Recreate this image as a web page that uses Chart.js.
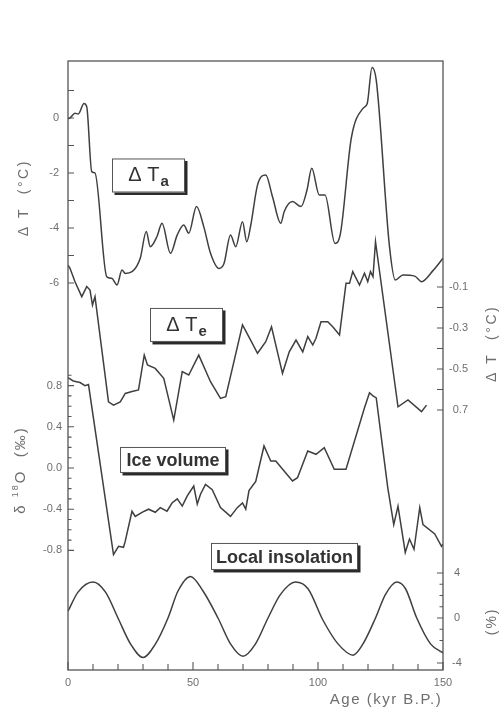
<!DOCTYPE html>
<html>
<head>
<meta charset="utf-8">
<script src="https://cdn.jsdelivr.net/npm/chart.js@4.4.1/dist/chart.umd.min.js"></script>
<style>
  html, body { margin: 0; padding: 0; background: #fff; }
  canvas { display: block; }
</style>
</head>
<body>
<canvas id="paleo" width="503" height="707"></canvas>
<script>
// Atmospheric temperature anomaly (top curve)
const taAge = [0, 0.8, 2.8, 4.1, 6.4, 7.5, 9.5, 10.8, 15.5, 17.5, 19.6, 21.6, 22.9, 25.6, 28.9, 31.3, 32.9, 35.6, 37.6, 41,
  43.7, 46.3, 48.3, 51.4, 54.3, 57, 60.4, 62.4, 65, 67.1, 69.8, 71.5, 73.1, 75.8, 79.1, 81.8, 85.1, 86.5, 89.8, 93.2,
  95.6, 97.5, 100.5, 102.8, 106.8, 109, 113.3, 118, 119.7, 121.6, 123.3, 128.6, 130.9, 134, 138.7, 141.4, 146, 150];
const taVal = [-0.02, 0.0, 0.17, 0.15, 0.53, 0.41, -1.95, -2.0, -5.77, -5.83, -6.07, -5.53, -5.65, -5.59, -5.1, -4.13, -4.68, -4.31, -3.83, -4.92,
  -4.25, -3.89, -4.19, -3.22, -3.95, -4.92, -5.47, -5.29, -4.25, -4.68, -3.77, -4.5, -3.9, -2.44, -2.07, -2.86, -3.83, -3.4, -3.04, -3.22,
  -2.62, -1.83, -2.8, -2.8, -4.56, -4.19, -0.74, 0.35, 0.53, 1.84, 1.38, -4.68, -5.89, -5.71, -5.75, -5.95, -5.55, -5.1];

// Equatorial temperature anomaly (second curve, right axis)
const teAge = [0, 0.8, 2.8, 5.5, 7.5, 8.8, 9.8, 10.8, 16.2, 18.2, 20.9, 22.9, 25.6, 28.2, 30.5, 31.8, 34.9, 38.3, 42.3,
  45.7, 48.3, 52.3, 57, 61, 63.1, 69.8, 73.1, 75.8, 79.1, 81.4, 85.8, 88.5, 91.2, 93.9, 95.9, 97.9, 99.2, 101.2, 103.9,
  105.9, 108.6, 111.2, 112.6, 113.9, 116.6, 118.6, 119.9, 121, 122, 123, 132, 136, 141.4, 143.4];
const teVal = [0.007, -0.009, -0.074, -0.147, -0.098, -0.115, -0.188, -0.147, -0.66, -0.676, -0.66, -0.619, -0.61, -0.602, -0.432, -0.48, -0.497, -0.545, -0.749,
  -0.513, -0.529, -0.432, -0.562, -0.643, -0.635, -0.285, -0.36, -0.423, -0.367, -0.294, -0.521, -0.416, -0.359, -0.416, -0.342, -0.383, -0.35, -0.269, -0.269,
  -0.294, -0.334, -0.082, -0.082, -0.025, -0.09, -0.033, -0.074, -0.025, -0.05, 0.121, -0.684, -0.651, -0.708, -0.676];

// Ice volume, delta 18O (third curve, left axis)
const iceAge = [0, 2.1, 4.8, 6.8, 8.2, 18.2, 20.2, 22.2, 22.9, 25.6, 26.9, 29.6, 32.2, 34.9, 36.9, 39.6, 41.6, 43.7, 45.7, 47.7,
  50.3, 51.7, 53, 55, 57.7, 61, 65, 67.7, 69.8, 71.1, 72.4, 75.1, 78.4, 81.1, 83.1, 89.8, 91.8, 95.9, 99.2, 102.5,
  106.5, 111.2, 118.6, 120.6, 122, 123.3, 127.9, 130.3, 132, 134.9, 136.6, 138.4, 140.7, 142, 146.7, 149.4, 150];
const iceVal = [0.877, 0.845, 0.83, 0.80, 0.81, -0.84, -0.76, -0.77, -0.71, -0.42, -0.47, -0.43, -0.40, -0.43, -0.385, -0.42, -0.34, -0.30, -0.37, -0.27,
  -0.175, -0.35, -0.255, -0.16, -0.21, -0.385, -0.47, -0.385, -0.34, -0.40, -0.22, -0.13, 0.214, 0.068, 0.068, -0.126, -0.094, 0.165, 0.133, 0.197,
  -0.013, -0.013, 0.585, 0.73, 0.70, 0.68, -0.19, -0.55, -0.37, -0.82, -0.69, -0.79, -0.385, -0.55, -0.64, -0.76, -0.74];

// Local insolation anomaly (bottom curve, %)
const insAge = [0, 4, 10, 15, 20, 25, 30, 35, 40, 44, 49, 54, 60, 65, 70, 75, 80, 85, 91, 96, 102, 108, 114, 118, 123, 127, 131.5, 135, 139.5, 145, 150];
const insVal = [0.6, 2.3, 3.2, 2.3, 0, -2.3, -3.5, -2.3, 0, 2.4, 3.7, 2.4, 0, -2.3, -3.4, -2.3, 0, 2.1, 3.2, 2.6, -0.2, -2.3, -3.3, -2.3, 0, 2.1, 3.2, 2.6, 0, -2.3, -3.1];

// Tick values and labels
const ageTicks = [0, 10, 20, 30, 40, 50, 60, 70, 80, 90, 100, 110, 120, 130, 140, 150];
const ageLabels = [0, 50, 100, 150];
const taTicks = [1, 0, -1, -2, -3, -4, -5, -6];
const taLabels = ['0', '-2', '-4', '-6'];
const taLabelVals = [0, -2, -4, -6];
const teTicks = [-0.1, -0.2, -0.3, -0.4, -0.5, -0.6, -0.7];
const teLabels = ['-0.1', '-0.3', '-0.5', '0.7'];
const teLabelVals = [-0.1, -0.3, -0.5, -0.7];
const iceMajor = [0.8, 0.4, 0.0, -0.4, -0.8];
const iceMinor = [0.9, 0.7, 0.6, 0.5, 0.3, 0.2, 0.1, -0.1, -0.2, -0.3, -0.5, -0.6, -0.7];
const iceLabels = ['0.8', '0.4', '0.0', '-0.4', '-0.8'];
const insMajor = [4, 0, -4];
const insMinor = [3, 2, 1, -1, -2, -3];
const insLabels = ['4', '0', '-4'];

const FONT = '"Liberation Sans", Arial, Helvetica, sans-serif';
const INK = '#3f3f3f';
const FRAME = '#555';
const GREY = '#6e6e6e';

function pairs(xs, ys) {
  return xs.map((x, i) => ({ x: x, y: ys[i] }));
}

function curve(label, xs, ys, axis, smooth) {
  return {
    label: label,
    data: pairs(xs, ys),
    yAxisID: axis,
    borderColor: INK,
    borderWidth: 1.5,
    pointRadius: 0,
    fill: false,
    tension: smooth ? 0.4 : 0,
    cubicInterpolationMode: smooth ? 'monotone' : 'default'
  };
}

// Draw text with optional letter spacing
function spacedText(ctx, text, x, y, spacing) {
  if ('letterSpacing' in ctx) {
    ctx.letterSpacing = spacing + 'px';
    ctx.fillText(text, x, y);
    ctx.letterSpacing = '0px';
  } else {
    ctx.fillText(text, x, y);
  }
}

function vTitle(ctx, text, cx, cy, size, spacing) {
  ctx.save();
  ctx.translate(cx, cy);
  ctx.rotate(-Math.PI / 2);
  ctx.font = size + 'px ' + FONT;
  ctx.fillStyle = GREY;
  ctx.textAlign = 'center';
  ctx.textBaseline = 'middle';
  spacedText(ctx, text, 0, 0, spacing);
  ctx.restore();
}

// Boxed caption with drop shadow, placed in data coordinates
function captionBox(ctx, chart, spec) {
  const x0 = chart.scales.x.getPixelForValue(spec.from);
  const x1 = chart.scales.x.getPixelForValue(spec.to);
  const yc = chart.scales[spec.axis].getPixelForValue(spec.at);
  const y0 = yc - spec.h / 2;
  ctx.save();
  ctx.fillStyle = '#2a2a2a';
  ctx.fillRect(x0 + 2.5, y0 + 2.5, x1 - x0, spec.h);
  ctx.fillStyle = '#fff';
  ctx.fillRect(x0, y0, x1 - x0, spec.h);
  ctx.strokeStyle = '#555';
  ctx.lineWidth = 1;
  ctx.strokeRect(x0 + 0.5, y0 + 0.5, x1 - x0 - 1, spec.h - 1);
  ctx.fillStyle = '#333';
  ctx.textBaseline = 'alphabetic';
  const mid = (x0 + x1) / 2;
  if (spec.sub) {
    ctx.font = '20px ' + FONT;
    const w1 = ctx.measureText(spec.text).width;
    ctx.font = 'bold 15px ' + FONT;
    const w2 = ctx.measureText(spec.sub).width;
    const start = mid - (w1 + w2 + 1) / 2;
    ctx.font = '20px ' + FONT;
    ctx.textAlign = 'left';
    ctx.fillText(spec.text, start, yc + 6);
    ctx.font = 'bold 15px ' + FONT;
    ctx.fillText(spec.sub, start + w1 + 1, yc + 11);
  } else {
    ctx.font = 'bold 18px ' + FONT;
    ctx.textAlign = 'center';
    ctx.fillText(spec.text, mid, yc + 6.5);
  }
  ctx.restore();
}

const axisDecor = {
  id: 'axisDecor',
  afterDraw(chart) {
    const ctx = chart.ctx;
    const a = chart.chartArea;
    const s = chart.scales;
    ctx.save();

    // frame
    ctx.strokeStyle = FRAME;
    ctx.lineWidth = 1.3;
    ctx.strokeRect(a.left, a.top, a.right - a.left, a.bottom - a.top);

    ctx.lineWidth = 1.1;
    ctx.beginPath();
    ageTicks.forEach(v => {
      const px = s.x.getPixelForValue(v);
      const len = v % 50 === 0 ? 8 : 6;
      ctx.moveTo(px, a.bottom);
      ctx.lineTo(px, a.bottom - len);
    });
    taTicks.forEach(v => {
      const py = s.yTa.getPixelForValue(v);
      ctx.moveTo(a.left, py);
      ctx.lineTo(a.left + 6, py);
    });
    iceMajor.forEach(v => {
      const py = s.yIce.getPixelForValue(v);
      ctx.moveTo(a.left, py);
      ctx.lineTo(a.left + 6, py);
    });
    iceMinor.forEach(v => {
      const py = s.yIce.getPixelForValue(v);
      ctx.moveTo(a.left, py);
      ctx.lineTo(a.left + 3.5, py);
    });
    teTicks.forEach(v => {
      const py = s.yTe.getPixelForValue(v);
      ctx.moveTo(a.right, py);
      ctx.lineTo(a.right - 6, py);
    });
    insMajor.forEach(v => {
      const py = s.yIns.getPixelForValue(v);
      ctx.moveTo(a.right, py);
      ctx.lineTo(a.right - 6, py);
    });
    insMinor.forEach(v => {
      const py = s.yIns.getPixelForValue(v);
      ctx.moveTo(a.right, py);
      ctx.lineTo(a.right - 3.5, py);
    });
    ctx.stroke();

    // tick labels
    ctx.fillStyle = GREY;
    ctx.font = '11px ' + FONT;
    ctx.textBaseline = 'middle';
    ctx.textAlign = 'center';
    ageLabels.forEach(v => {
      ctx.fillText(String(v), s.x.getPixelForValue(v), a.bottom + 13);
    });
    ctx.textAlign = 'right';
    taLabelVals.forEach((v, i) => {
      ctx.fillText(taLabels[i], a.left - 9, s.yTa.getPixelForValue(v));
    });
    iceMajor.forEach((v, i) => {
      ctx.fillText(iceLabels[i], a.left - 6, s.yIce.getPixelForValue(v));
    });
    teLabelVals.forEach((v, i) => {
      ctx.fillText(teLabels[i], a.right + 25, s.yTe.getPixelForValue(v));
    });
    ctx.textAlign = 'left';
    insMajor.forEach((v, i) => {
      ctx.fillText(insLabels[i], a.right + (v < 0 ? 9 : 11), s.yIns.getPixelForValue(v));
    });

    // axis titles
    vTitle(ctx, 'Δ T  (°C)', 24, s.yTa.getPixelForValue(-2.9), 14, 2.5);
    vTitle(ctx, 'Δ T  (°C)', 492, s.yTe.getPixelForValue(-0.375), 14, 2.5);
    vTitle(ctx, '(%)', 492, s.yIns.getPixelForValue(-0.3), 14, 2);

    // delta 18O title with raised 18
    ctx.save();
    ctx.translate(21, s.yIce.getPixelForValue(-0.02));
    ctx.rotate(-Math.PI / 2);
    ctx.fillStyle = GREY;
    ctx.textBaseline = 'middle';
    ctx.textAlign = 'left';
    const parts = [['δ ', 15, 0], ['18', 9, -5], ['O  (‰)', 15, 0]];
    let total = 0;
    parts.forEach(p => {
      ctx.font = p[1] + 'px ' + FONT;
      total += ctx.measureText(p[0]).width + 2 * p[0].length;
    });
    let cx = -total / 2;
    parts.forEach(p => {
      ctx.font = p[1] + 'px ' + FONT;
      spacedText(ctx, p[0], cx, p[2], 2);
      cx += ctx.measureText(p[0]).width + 2 * p[0].length;
    });
    ctx.restore();

    ctx.font = '15px ' + FONT;
    ctx.textAlign = 'center';
    ctx.textBaseline = 'middle';
    spacedText(ctx, 'Age (kyr B.P.)', 386, a.bottom + 30, 1.5);

    // boxed captions
    captionBox(ctx, chart, { text: 'Δ T', sub: 'a', from: 17.6, to: 46.8, axis: 'yTa', at: -2.09, h: 34 });
    captionBox(ctx, chart, { text: 'Δ T', sub: 'e', from: 32.8, to: 62, axis: 'yTe', at: -0.285, h: 34 });
    captionBox(ctx, chart, { text: 'Ice volume', from: 20.8, to: 63.2, axis: 'yIce', at: 0.078, h: 26 });
    captionBox(ctx, chart, { text: 'Local insolation', from: 57.2, to: 116, axis: 'yIns', at: 5.47, h: 27 });

    ctx.restore();
  }
};

new Chart(document.getElementById('paleo'), {
  type: 'line',
  data: {
    datasets: [
      curve('ΔTa', taAge, taVal, 'yTa', true),
      curve('ΔTe', teAge, teVal, 'yTe', false),
      curve('Ice volume', iceAge, iceVal, 'yIce', false),
      curve('Local insolation', insAge, insVal, 'yIns', true)
    ]
  },
  options: {
    responsive: false,
    animation: false,
    events: [],
    layout: { padding: { left: 68, right: 60, top: 61, bottom: 37 } },
    plugins: { legend: { display: false }, tooltip: { enabled: false } },
    scales: {
      x: { type: 'linear', min: 0, max: 150, display: false },
      yTa: { type: 'linear', min: -20.073, max: 2.073, display: false },
      yTe: { type: 'linear', min: -1.968, max: 1.0024, display: false },
      yIce: { type: 'linear', min: -1.9612, max: 3.9515, display: false },
      yIns: { type: 'linear', min: -4.622, max: 49.51, display: false }
    }
  },
  plugins: [axisDecor]
});
</script>
</body>
</html>
